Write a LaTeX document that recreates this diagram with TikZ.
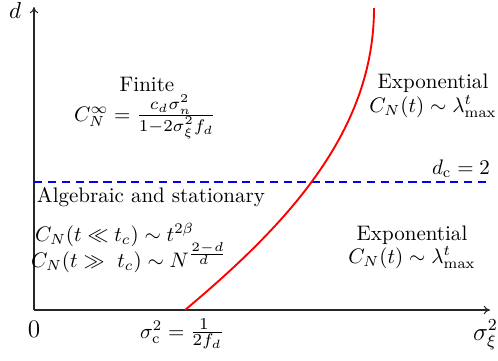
\documentclass[tikz,border=0pt]{standalone}
\usepackage{amsmath}
\usetikzlibrary{arrows.meta}
\newcommand{\bigsfr}[2]{\frac{\scalebox{1.14}{$\scriptstyle #1$}}{\scalebox{1.14}{$\scriptstyle #2$}}}
\newcommand{\expfr}[2]{\frac{\scalebox{1.22}{$\scriptscriptstyle #1$}}{\scalebox{1.22}{$\scriptscriptstyle #2$}}}
\begin{document}
\begin{tikzpicture}[x=0.476pt,y=-0.476pt,
  axis/.style={draw=black!85,line width=0.5pt,-{To[length=3pt,width=4pt]}},
  lbl/.style={inner sep=0pt,outer sep=0pt}]
\useasboundingbox (0,0) rectangle (498,360);
\coordinate (O) at (34,310);
\coordinate (X) at (490,310);
\coordinate (Y) at (34,7);
\draw[axis] (O) -- (X);
\draw[axis] (O) -- (Y);
\node[lbl,anchor=base west,font=\large] (dlab) at (9,18) {\fontsize{11}{13}\selectfont$d$};
\node[lbl,anchor=base,font=\large] (zero) at (34,337) {$0$};
\node[lbl,anchor=base west,font=\large] (sigx) at (473,340) {$\sigma_\xi^2$};
\node[lbl,anchor=base west] (sigc) at (140,338) {$\sigma_{\mathrm{c}}^2 = \bigsfr{1}{2 f_d}$};
\coordinate (D1) at (34,182);
\coordinate (D2) at (490,182);
\draw[blue,line width=1pt,dash pattern=on 4pt off 2.6pt] (D1) -- (D2);
\node[lbl,anchor=base east] (dc) at (490,174) {$d_{\mathrm{c}} = 2$};
\coordinate (C1) at (185,310);
\coordinate (C2) at (374,8);
\draw[red,line width=0.9pt] (C1) .. controls (290,222) and (374,130) .. (C2);
\node[lbl,anchor=base] (fin) at (147,91) {Finite};
\node[lbl,anchor=base] (finf) at (145,121) {$C_N^\infty = \bigsfr{c_d\sigma_n^2}{1-2\sigma_\xi^2 f_d}$};
\node[lbl,anchor=base] (exp1) at (433,88) {Exponential};
\node[lbl,anchor=base] (exp1f) at (433,112) {$C_N(t) \sim \lambda_{\max}^t$};
\node[lbl,anchor=base west] (alg) at (37,202) {Algebraic and stationary};
\node[lbl,anchor=base west] (alg1) at (35,241) {$C_N(t \ll t_c) \sim t^{2\beta}$};
\node[lbl,anchor=base west] (alg2) at (31,267) {$C_N(t \gg\ t_c) \sim N^{\expfr{2-d}{d}}$};
\node[lbl,anchor=base] (exp2) at (412,240) {Exponential};
\node[lbl,anchor=base] (exp2f) at (412,263) {$C_N(t) \sim \lambda_{\max}^t$};
\end{tikzpicture}
\end{document}
